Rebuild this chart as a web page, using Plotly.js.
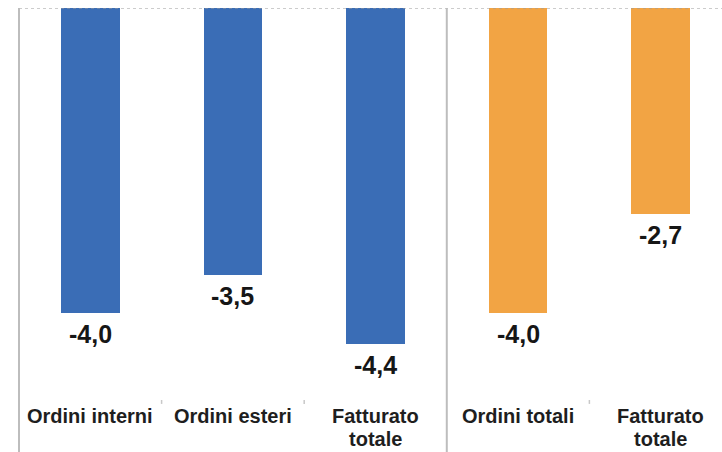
<!DOCTYPE html>
<html>
<head>
<meta charset="utf-8">
<script src="https://cdn.plot.ly/plotly-3.0.1.min.js"></script>
<style>html,body{margin:0;padding:0;background:#fff;}#chart{width:722px;height:452px;}</style>
</head>
<body>
<div id="chart"></div>
<script>
const categories = ["Ordini interni", "Ordini esteri", "Fatturato<br>totale", "Ordini totali", "Fatturato<br>totale"];
const values = [-4.0, -3.5, -4.4, -4.0, -2.7];
const valueLabels = ["-4,0", "-3,5", "-4,4", "-4,0", "-2,7"];
const groups = ["a", "a", "a", "b", "b"];

const colorMap = {a: "#3a6db6", b: "#f2a444"};
const xs = categories.map((c, i) => i);

const trace = {
  type: "bar",
  x: xs,
  y: values,
  width: 0.41,
  marker: {color: groups.map(g => colorMap[g]), line: {width: 0}},
  hoverinfo: "skip"
};

const annotations = [];
values.forEach((v, i) => {
  annotations.push({
    x: i, y: v, xref: "x", yref: "y",
    text: valueLabels[i], showarrow: false,
    yanchor: "middle", yshift: -21,
    font: {family: "Liberation Sans, Arial, sans-serif", size: 25, color: "#161616", weight: "bold"}
  });
});
categories.forEach((c, i) => {
  c.split("<br>").forEach((line, j) => {
    annotations.push({
      x: i, y: 0, xref: "x", yref: "paper",
      text: "<b>" + line + "</b>", showarrow: false,
      yanchor: "middle", yshift: -16 - j * 23,
      font: {family: "Liberation Sans, Arial, sans-serif", size: 20, color: "#1e1e1e"}
    });
  });
});

const shapes = [
  {type: "line", xref: "paper", yref: "y", x0: 0, x1: 1, y0: 0, y1: 0,
   line: {color: "#9a9a9a", width: 1, dash: "dot"}},
  {type: "line", xref: "paper", yref: "paper", x0: 0, x1: 0, y0: 1, y1: -0.14,
   line: {color: "#bdbdbd", width: 2}},
  {type: "line", xref: "x", yref: "paper", x0: 2.5, x1: 2.5, y0: 1, y1: -0.14,
   line: {color: "#bdbdbd", width: 2}}
];
[0.5, 1.5, 3.5].forEach(b => {
  shapes.push({type: "line", xref: "x", yref: "paper", x0: b, x1: b, y0: 0, y1: -0.01,
    line: {color: "#c8c8c8", width: 1.5}});
});

const layout = {
  width: 722, height: 452,
  margin: {l: 19, r: 0, t: 8, b: 52, pad: 0},
  paper_bgcolor: "#ffffff", plot_bgcolor: "#ffffff",
  showlegend: false,
  xaxis: {range: [-0.5, 4.43], showticklabels: false, showgrid: false, zeroline: false, showline: false, ticks: "", fixedrange: true},
  yaxis: {range: [-5.14, 0], showticklabels: false, showgrid: false, zeroline: false, showline: false, ticks: "", fixedrange: true},
  annotations: annotations,
  shapes: shapes,
  bargap: 0
};

Plotly.newPlot("chart", [trace], layout, {displayModeBar: false, staticPlot: true});
</script>
</body>
</html>
